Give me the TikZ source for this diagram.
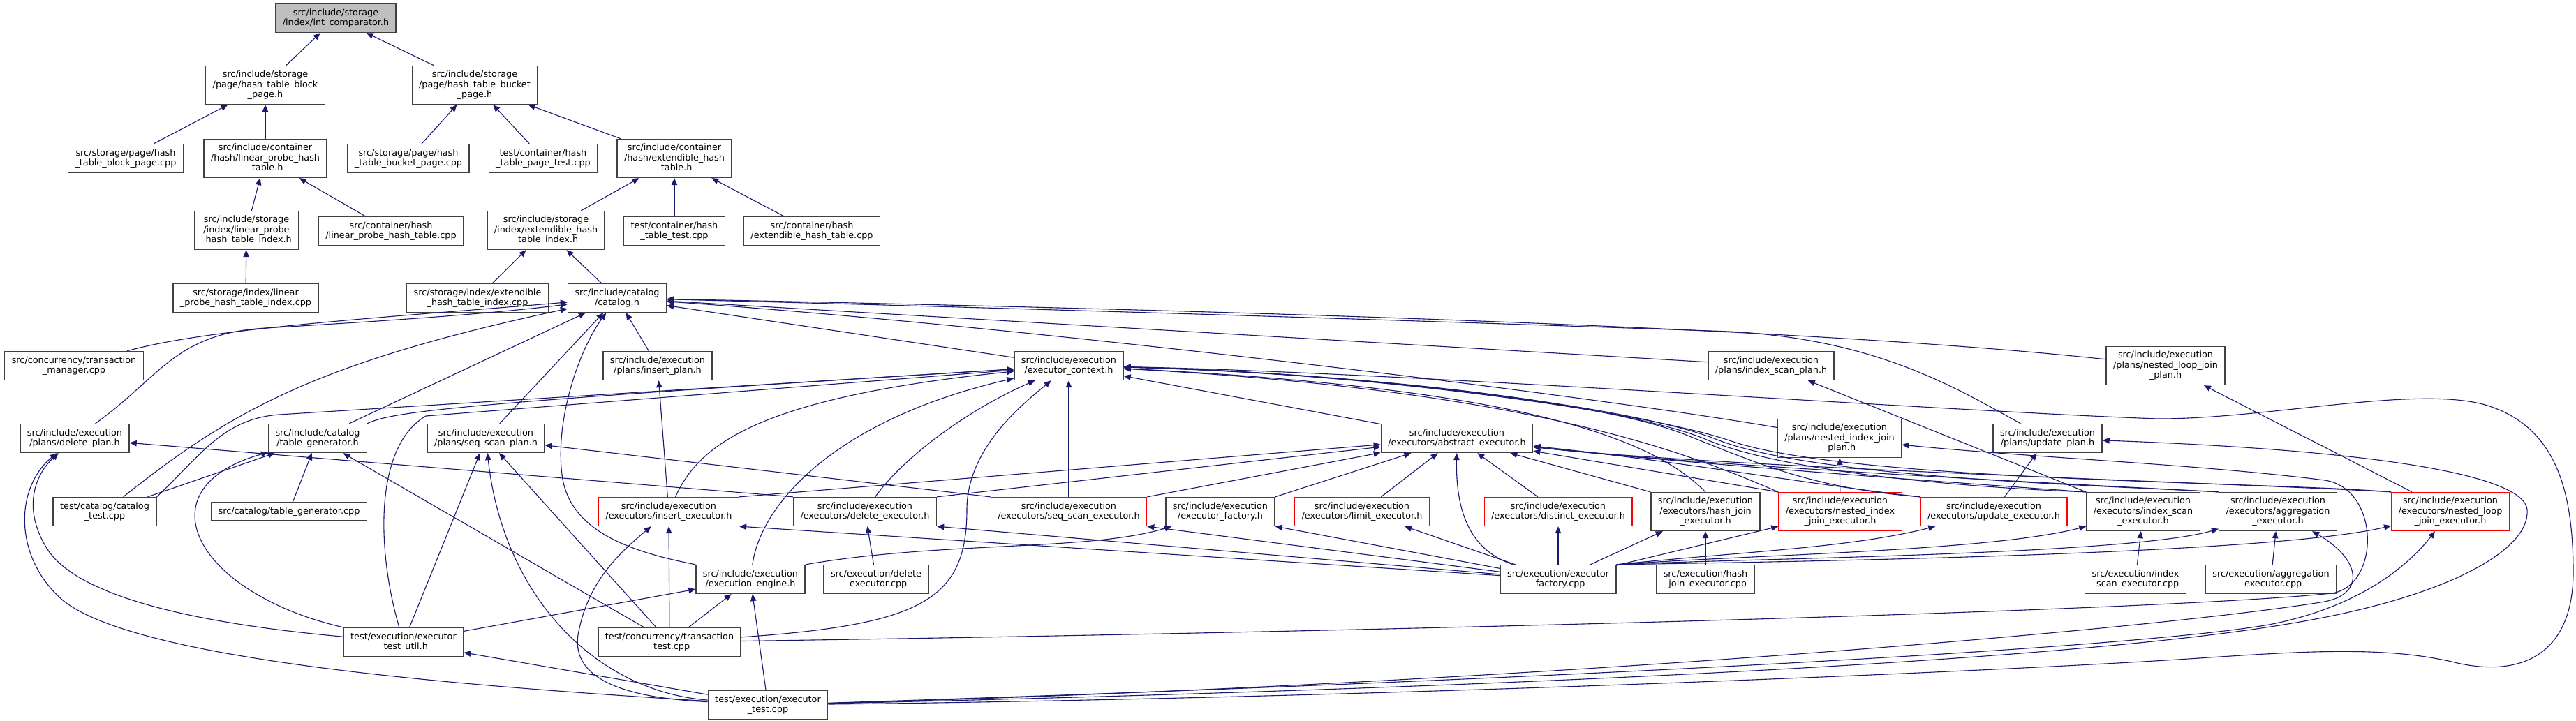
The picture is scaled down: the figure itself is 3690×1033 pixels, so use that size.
\documentclass[tikz,border=0pt]{standalone}
\usepackage{fontspec}
\setmainfont{DejaVu Sans}
\usetikzlibrary{arrows.meta}
\definecolor{edgeblue}{HTML}{191970}
\definecolor{boxline}{HTML}{404040}
\definecolor{truncred}{HTML}{FF0000}
\definecolor{rootfill}{HTML}{BFBFBF}

\begin{document}
\begin{tikzpicture}[x=0.5pt,y=-0.5pt,>={Triangle[length=5pt,width=4.2pt]},
  file/.style={draw=boxline,line width=0.65pt,fill=white,align=center,inner xsep=5pt,inner ysep=0pt,
    minimum height=20.5pt,font=\fontsize{6.4pt}{7.25pt}\selectfont},
  tall/.style={minimum height=27.5pt},
  flat/.style={minimum height=13pt},
  cut/.style={draw=truncred},
  dep/.style={->,draw=edgeblue,line width=0.55pt}]
 \path[use as bounding box,fill=white] (0,0) rectangle (3690,1033);

 \node[file,fill=rootfill] (root) at (481,26) {src/include/storage\\/index/int\_comparator.h};
 \node[file,tall] (blockh) at (380,122) {src/include/storage\\/page/hash\_table\_block\\\_page.h};
 \node[file,tall] (bucketh) at (680,122) {src/include/storage\\/page/hash\_table\_bucket\\\_page.h};
 \node[file] (blockcpp) at (180,227) {src/storage/page/hash\\\_table\_block\_page.cpp};
 \node[file,tall] (lpht) at (380,227) {src/include/container\\/hash/linear\_probe\_hash\\\_table.h};
 \node[file] (bucketcpp) at (585,227) {src/storage/page/hash\\\_table\_bucket\_page.cpp};
 \node[file] (pagetest) at (778,227) {test/container/hash\\\_table\_page\_test.cpp};
 \node[file,tall] (eht) at (966,227) {src/include/container\\/hash/extendible\_hash\\\_table.h};
 \node[file,tall] (lphti) at (353,330) {src/include/storage\\/index/linear\_probe\\\_hash\_table\_index.h};
 \node[file] (lphtcpp) at (560,331) {src/container/hash\\/linear\_probe\_hash\_table.cpp};
 \node[file,tall] (ehti) at (782,330) {src/include/storage\\/index/extendible\_hash\\\_table\_index.h};
 \node[file] (ehttest) at (966,331) {test/container/hash\\\_table\_test.cpp};
 \node[file] (ehtcpp) at (1163,331) {src/container/hash\\/extendible\_hash\_table.cpp};
 \node[file] (lphticpp) at (352,427) {src/storage/index/linear\\\_probe\_hash\_table\_index.cpp};
 \node[file] (ehticpp) at (684,427) {src/storage/index/extendible\\\_hash\_table\_index.cpp};
 \node[file] (catalog) at (884,427) {src/include/catalog\\/catalog.h};

 \node[file] (txnmgr) at (106,524) {src/concurrency/transaction\\\_manager.cpp};
 \node[file] (insertplan) at (942,524) {src/include/execution\\/plans/insert\_plan.h};
 \node[file] (ctx) at (1531,524) {src/include/execution\\/executor\_context.h};
 \node[file] (indexscanplan) at (2537,524) {src/include/execution\\/plans/index\_scan\_plan.h};
 \node[file,tall] (nljplan) at (3102,524) {src/include/execution\\/plans/nested\_loop\_join\\\_plan.h};
 \node[file] (deleteplan) at (107,628) {src/include/execution\\/plans/delete\_plan.h};
 \node[file] (tablegen) at (455,628) {src/include/catalog\\/table\_generator.h};
 \node[file] (seqscanplan) at (696,628) {src/include/execution\\/plans/seq\_scan\_plan.h};
 \node[file] (abstract) at (2087,628) {src/include/execution\\/executors/abstract\_executor.h};
 \node[file,tall] (nijplan) at (2635,628) {src/include/execution\\/plans/nested\_index\_join\\\_plan.h};
 \node[file] (updateplan) at (2933,628) {src/include/execution\\/plans/update\_plan.h};

 \node[file] (catalogtest) at (150,733) {test/catalog/catalog\\\_test.cpp};
 \node[file,flat] (tablegencpp) at (414,733) {src/catalog/table\_generator.cpp};
 \node[file,cut] (insertexec) at (958,733) {src/include/execution\\/executors/insert\_executor.h};
 \node[file] (deleteexec) at (1239,733) {src/include/execution\\/executors/delete\_executor.h};
 \node[file,cut] (seqscanexec) at (1531,733) {src/include/execution\\/executors/seq\_scan\_executor.h};
 \node[file] (factoryh) at (1748,733) {src/include/execution\\/executor\_factory.h};
 \node[file,cut] (limitexec) at (1951,733) {src/include/execution\\/executors/limit\_executor.h};
 \node[file,cut] (distinctexec) at (2232,733) {src/include/execution\\/executors/distinct\_executor.h};
 \node[file,tall] (hashjoinexec) at (2443,733) {src/include/execution\\/executors/hash\_join\\\_executor.h};
 \node[file,tall,cut] (nijexec) at (2636,733) {src/include/execution\\/executors/nested\_index\\\_join\_executor.h};
 \node[file,cut] (updateexec) at (2856,733) {src/include/execution\\/executors/update\_executor.h};
 \node[file,tall] (indexscanexec) at (3070,733) {src/include/execution\\/executors/index\_scan\\\_executor.h};
 \node[file,tall] (aggexec) at (3263,733) {src/include/execution\\/executors/aggregation\\\_executor.h};
 \node[file,tall,cut] (nljexec) at (3510,733) {src/include/execution\\/executors/nested\_loop\\\_join\_executor.h};

 \node[file] (engine) at (1075,830) {src/include/execution\\/execution\_engine.h};
 \node[file] (deletecpp) at (1255,830) {src/execution/delete\\\_executor.cpp};
 \node[file] (factcpp) at (2232,830) {src/execution/executor\\\_factory.cpp};
 \node[file] (hashjoincpp) at (2443,830) {src/execution/hash\\\_join\_executor.cpp};
 \node[file] (indexscancpp) at (3059,830) {src/execution/index\\\_scan\_executor.cpp};
 \node[file] (aggcpp) at (3253,830) {src/execution/aggregation\\\_executor.cpp};
 \node[file] (testutil) at (578,920) {test/execution/executor\\\_test\_util.h};
 \node[file] (txntest) at (959,920) {test/concurrency/transaction\\\_test.cpp};
 \node[file] (exectest) at (1100,1010) {test/execution/executor\\\_test.cpp};

 \draw[dep] (blockh) -- (root);
 \draw[dep] (bucketh) -- (root);
 \draw[dep] (blockcpp) -- (blockh);
 \draw[dep] (lpht) -- (blockh);
 \draw[dep] (bucketcpp) -- (bucketh);
 \draw[dep] (pagetest) -- (bucketh);
 \draw[dep] (eht) -- (bucketh);
 \draw[dep] (lphti) -- (lpht);
 \draw[dep] (lphtcpp) -- (lpht);
 \draw[dep] (ehti) -- (eht);
 \draw[dep] (ehttest) -- (eht);
 \draw[dep] (ehtcpp) -- (eht);
 \draw[dep] (lphticpp) -- (lphti);
 \draw[dep] (ehticpp) -- (ehti);
 \draw[dep] (catalog) -- (ehti);

 \draw[dep] (txnmgr) .. controls (300,470) and (550,455) .. (catalog);
 \draw[dep] (deleteplan) .. controls (230,540) and (250,478) .. (380,470) .. controls (550,460) and (700,450) .. (catalog);
 \draw[dep] (catalogtest) .. controls (330,590) and (450,520) .. (catalog);
 \draw[dep] (tablegen) -- (catalog);
 \draw[dep] (seqscanplan) -- (catalog);
 \draw[dep] (engine.north west) .. controls (900,790) and (815,760) .. (805,680) .. controls (795,600) and (830,500) .. (catalog);
 \draw[dep] (insertplan) -- (catalog);
 \draw[dep] (ctx) -- (catalog);
 \draw[dep] (indexscanplan) -- (catalog);
 \draw[dep] (nijplan) .. controls (2300,570) and (1500,470) .. (catalog);
 \draw[dep] (nljplan) .. controls (2600,470) and (1800,445) .. (catalog);
 \draw[dep] (updateplan) .. controls (2800,555) and (2680,480) .. (2450,474) .. controls (1900,455) and (1400,440) .. (catalog);

 \draw[dep] (catalogtest.north east) .. controls (290,650) and (320,600) .. (400,594) -- (ctx);
 \draw[dep] (testutil) .. controls (540,790) and (535,640) .. (610,596) -- (ctx);
 \draw[dep] (tablegen.north east) .. controls (560,590) and (650,578) .. (ctx);
 \draw[dep] (insertexec) .. controls (1000,640) and (1080,570) .. (ctx);
 \draw[dep] (engine) .. controls (1090,720) and (1200,600) .. (ctx);
 \draw[dep] (deleteexec) .. controls (1290,660) and (1380,590) .. (ctx);
 \draw[dep] (txntest) .. controls (1320,895) and (1385,860) .. (1385,730) .. controls (1385,640) and (1470,575) .. (ctx);
 \draw[dep] (seqscanexec) -- (ctx);
 \draw[dep] (abstract) -- (ctx);
 \draw[dep] (hashjoinexec.north) .. controls (2360,620) and (2150,555) .. (ctx);
 \draw[dep] (nijexec.north west) .. controls (2420,650) and (2200,560) .. (ctx);
 \draw[dep] (updateexec.north west) .. controls (2600,700) and (2520,665) .. (2420,625) .. controls (2300,575) and (1950,535) .. (ctx);
 \draw[dep] (indexscanexec.north west) .. controls (2850,700) and (2560,680) .. (2440,628) .. controls (2320,580) and (1950,535) .. (ctx);
 \draw[dep] (aggexec.north west) .. controls (3000,695) and (2600,685) .. (2460,630) .. controls (2340,582) and (1950,534) .. (ctx);
 \draw[dep] (nljexec.north west) .. controls (3250,690) and (2650,690) .. (2480,632) .. controls (2360,590) and (1950,533) .. (ctx);
 \draw[dep] (exectest) .. controls (2000,1000) and (2900,960) .. (3150,943) .. controls (3300,933) and (3420,925) .. (3520,950)
   .. controls (3620,972) and (3686,930) .. (3686,820) .. controls (3686,700) and (3660,610) .. (3560,580)
   .. controls (3460,552) and (3250,600) .. (3092,600) .. controls (2800,590) and (2000,533) .. (ctx);

 \draw[dep] (exectest) .. controls (2200,985) and (3000,945) .. (3300,890) .. controls (3500,855) and (3625,790) .. (3620,730) .. controls (3615,680) and (3400,645) .. (updateplan);
 \draw[dep] (exectest) .. controls (2200,975) and (3050,930) .. (3250,895) .. controls (3380,870) and (3450,810) .. (nljexec);
 \draw[dep] (exectest) .. controls (2200,980) and (3100,900) .. (3330,862) .. controls (3390,850) and (3380,800) .. (aggexec);
 \draw[dep] (txntest) .. controls (2000,905) and (3100,875) .. (3340,850) .. controls (3410,840) and (3410,700) .. (3330,688) .. controls (3150,665) and (2900,655) .. (nijplan);

 \draw[dep] (insertexec.north east) -- (abstract);
 \draw[dep] (deleteexec.north east) -- (abstract);
 \draw[dep] (seqscanexec.north east) -- (abstract);
 \draw[dep] (factoryh.north east) -- (abstract);
 \draw[dep] (limitexec) -- (abstract);
 \draw[dep] (distinctexec) -- (abstract);
 \draw[dep] (hashjoinexec.north west) -- (abstract);
 \draw[dep] (factcpp) .. controls (2110,790) and (2085,740) .. (abstract);
 \draw[dep] (nijexec.north west) -- (abstract);
 \draw[dep] (updateexec.north west) .. controls (2600,695) and (2400,660) .. (abstract);
 \draw[dep] (indexscanexec.north west) .. controls (2850,695) and (2420,665) .. (abstract);
 \draw[dep] (aggexec.north west) .. controls (3000,695) and (2440,668) .. (abstract);
 \draw[dep] (nljexec.north west) .. controls (3200,692) and (2460,670) .. (abstract);

 \draw[dep] (insertexec) -- (insertplan);
 \draw[dep] (deleteexec.north west) -- (deleteplan);
 \draw[dep] (seqscanexec.north west) -- (seqscanplan);
 \draw[dep] (updateexec) -- (updateplan);
 \draw[dep] (indexscanexec.north west) -- (indexscanplan);
 \draw[dep] (nijexec) -- (nijplan);
 \draw[dep] (nljexec) -- (nljplan);

 \draw[dep] (engine.north east) .. controls (1350,775) and (1560,790) .. (factoryh);
 \draw[dep] (factcpp) -- (factoryh.south east);
 \draw[dep] (factcpp) -- (insertexec.south east);
 \draw[dep] (factcpp) -- (deleteexec.south east);
 \draw[dep] (factcpp) -- (seqscanexec.south east);
 \draw[dep] (factcpp) -- (limitexec);
 \draw[dep] (factcpp) -- (distinctexec);
 \draw[dep] (factcpp) -- (hashjoinexec);
 \draw[dep] (factcpp) -- (nijexec);
 \draw[dep] (factcpp.north east) .. controls (2500,790) and (2650,785) .. (updateexec);
 \draw[dep] (factcpp.north east) .. controls (2500,795) and (2850,790) .. (indexscanexec);
 \draw[dep] (factcpp.north east) .. controls (2500,800) and (3050,795) .. (aggexec);
 \draw[dep] (factcpp.north east) .. controls (2550,805) and (3250,795) .. (nljexec);

 \draw[dep] (hashjoincpp) -- (hashjoinexec);
 \draw[dep] (indexscancpp) -- (indexscanexec);
 \draw[dep] (aggcpp) -- (aggexec);
 \draw[dep] (deletecpp) -- (deleteexec);
 \draw[dep] (tablegencpp) -- (tablegen);

 \draw[dep] (catalogtest) -- (tablegen);
 \draw[dep] (testutil.north west) .. controls (280,850) and (200,700) .. (tablegen);
 \draw[dep] (testutil) -- (seqscanplan);
 \draw[dep] (testutil) .. controls (300,895) and (120,860) .. (70,790) .. controls (30,730) and (50,680) .. (deleteplan);
 \draw[dep] (testutil) -- (engine);
 \draw[dep] (exectest) -- (testutil);
 \draw[dep] (exectest) -- (engine);
 \draw[dep] (exectest) .. controls (700,985) and (200,950) .. (90,860) .. controls (20,800) and (20,700) .. (deleteplan);
 \draw[dep] (exectest) .. controls (850,990) and (720,850) .. (seqscanplan);
 \draw[dep] (exectest) .. controls (900,1000) and (810,975) .. (830,900) .. controls (845,830) and (890,790) .. (insertexec);
 \draw[dep] (txntest) -- (tablegen);
 \draw[dep] (txntest) -- (seqscanplan);
 \draw[dep] (txntest) -- (insertexec);
 \draw[dep] (txntest) -- (engine);
\end{tikzpicture}
\end{document}
